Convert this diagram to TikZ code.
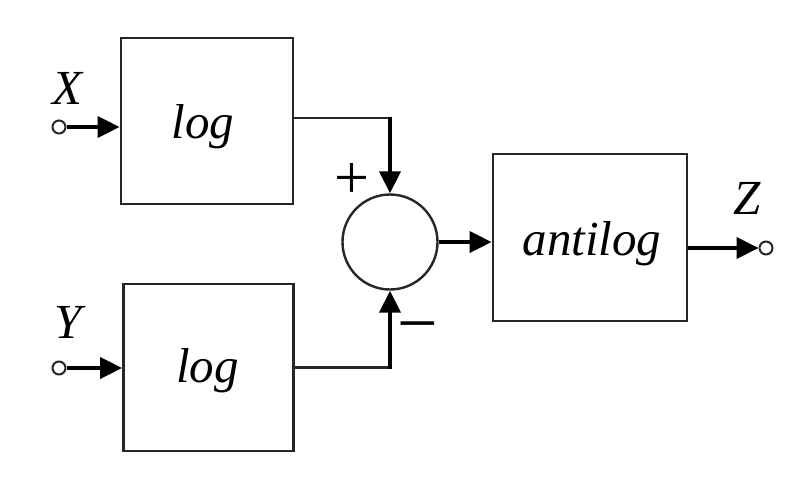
\documentclass[tikz,border=0pt]{standalone}
\usepackage{fontspec}
\setmainfont{Liberation Serif}
\usetikzlibrary{arrows.meta}
\tikzset{
  blk/.style={draw=black!85, line width=2.8pt, fill=white, inner sep=0pt},
  sumnode/.style={circle, draw=black!85, line width=2.4pt, minimum size=95pt, inner sep=0pt},
  port/.style={circle, draw=black!85, line width=2pt, fill=white, minimum size=13pt, inner sep=0pt},
  lbl/.style={font=\fontsize{49pt}{54pt}\selectfont\itshape, inner sep=0pt},
  sgn/.style={font=\fontsize{62pt}{62pt}\selectfont, inner sep=0pt},
  sig/.style={draw=black, line width=4pt, -{Triangle[length=22pt,width=21pt]}},
  wire/.style={draw=black!85, line width=2.5pt}
}
\begin{document}
\begin{tikzpicture}[x=1pt,y=-1pt]
\useasboundingbox (0,0) rectangle (800,477);
\node[blk, minimum width=172pt, minimum height=166pt] (log1) at (207,121) {};
\node[lbl] (t1) at ([xshift=-4pt,yshift=-6pt]log1.center) {log};
\node[blk, minimum width=170pt, minimum height=167pt] (log2) at (208.5,367.5) {};
\node[lbl] (t2) at ([xshift=-1pt,yshift=-3pt]log2.center) {log};
\node[blk, minimum width=194pt, minimum height=167pt] (anti) at (590,237.5) {};
\node[lbl] (t3) at ([xshift=2pt,yshift=-6pt]anti.center) {antilog};
\node[sumnode] (sum) at (390,242) {};
\node[port] (x) at (59,127) {};
\node[port] (y) at (59,368) {};
\node[port] (z) at (766,248) {};
\node[lbl] (xl) at (67,88) {X};
\node[lbl] (yl) at (68,322) {Y};
\node[lbl] (zl) at (747,198) {Z};
\node[sgn] (plus) at (352,181) {+};
\node[sgn, font=\fontsize{72pt}{72pt}\selectfont] (minus) at (418,335) {−};
\coordinate (c1) at (sum.north |- 0,118);
\coordinate (c2) at (sum.south |- log2.east);
\draw[sig] (x.east) -- (x -| log1.west);
\draw[sig] (y.east) -- (y -| log2.west);
\draw[wire] ([yshift=3pt]log1.east) -- (c1);
\draw[sig] ([yshift=1.25pt]c1) -- (sum.north);
\draw[wire] (log2.east) -- (c2);
\draw[sig] ([yshift=-1.25pt]c2) -- (sum.south);
\draw[sig] (sum.east) -- (sum.east -| anti.west);
\draw[sig] (anti.east |- z) -- (z.west);
\end{tikzpicture}
\end{document}
